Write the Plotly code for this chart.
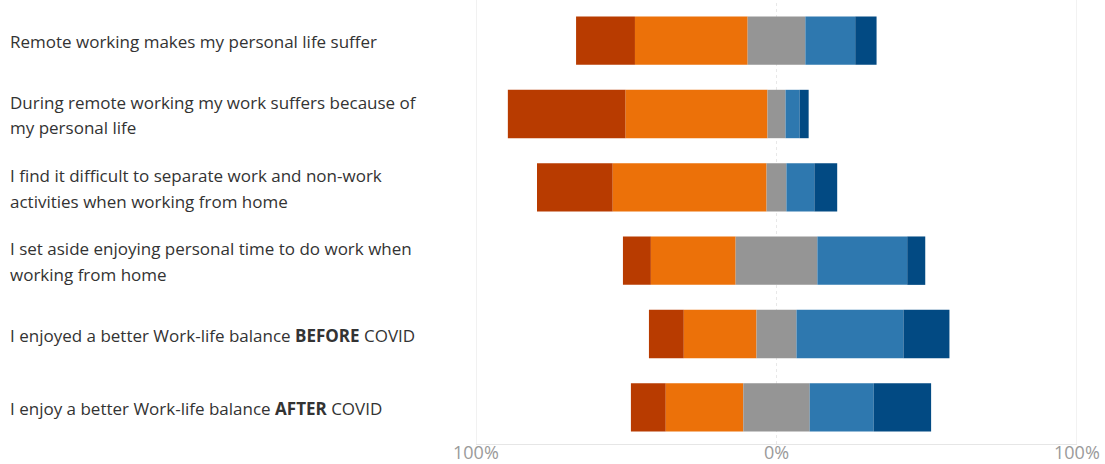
import plotly.graph_objects as go

categories = [
    "Remote working makes my personal life suffer",
    "During remote working my work suffers because of<br>my personal life",
    "I find it difficult to separate work and non-work<br>activities when working from home",
    "I set aside enjoying personal time to do work when<br>working from home",
    "I enjoyed a better Work-life balance <b>BEFORE</b> COVID",
    "I enjoy a better Work-life balance <b>AFTER</b> COVID",
]
strongly_disagree = [19.6, 39.2, 25.2, 9.3, 11.6, 11.6]
disagree = [37.5, 47.2, 51.2, 28.2, 24.2, 25.8]
neutral = [19.2, 6.0, 6.6, 27.2, 13.3, 22.1]
agree = [16.6, 4.7, 9.3, 29.9, 35.6, 21.3]
strongly_agree = [7.1, 3.0, 7.6, 6.0, 15.3, 19.1]
tick_vals = [-100, 0, 100]
tick_text = ["100%", "0%", "100%"]

colors = {
    "sd": "#B83B00",
    "d": "#EC7109",
    "n": "#959595",
    "a": "#2E78AF",
    "sa": "#024A83",
}

ypos = list(range(len(categories)))
fig = go.Figure()

def add(widths, bases, color, name):
    fig.add_trace(go.Bar(
        x=widths, base=bases, y=ypos, orientation="h", name=name,
        marker=dict(color=color, line=dict(width=0)),
        width=0.66, showlegend=False,
    ))

# diverging layout: neutral centred on zero
n_left = [-v / 2 for v in neutral]
d_base = [nl - d for nl, d in zip(n_left, disagree)]
sd_base = [db - s for db, s in zip(d_base, strongly_disagree)]
a_base = [v / 2 for v in neutral]
sa_base = [ab + a for ab, a in zip(a_base, agree)]

add(strongly_disagree, sd_base, colors["sd"], "Strongly disagree")
add(disagree, d_base, colors["d"], "Disagree")
add(neutral, n_left, colors["n"], "Neutral")
add(agree, a_base, colors["a"], "Agree")
add(strongly_agree, sa_base, colors["sa"], "Strongly agree")

L, R, T, B = 476, 28, 4, 20
W, H = 1105, 464
plot_w = W - L - R
font_family = "Open Sans, Noto Sans, sans-serif"

annotations = []
for i, lab in enumerate(categories):
    lines = lab.split("<br>")
    n = len(lines)
    for j, line in enumerate(lines):
        shift = (j - (n - 1) / 2) * 25.5
        annotations.append(dict(
            x=(8 - L) / plot_w, xref="paper", xanchor="left",
            y=i, yref="y", yanchor="middle", yshift=-shift - 1,
            text=line, showarrow=False,
            font=dict(family=font_family, size=17, color="#333333"),
        ))

# x tick labels as annotations sitting just under the axis line
for v, t in zip(tick_vals, tick_text):
    annotations.append(dict(
        x=v, xref="x", xanchor="center",
        y=0, yref="paper", yanchor="middle", yshift=-8,
        text=t, showarrow=False,
        font=dict(family=font_family, size=18, color="#9A9A9A"),
    ))

shapes = []
for v in tick_vals:
    shapes.append(dict(
        type="line", xref="x", yref="paper", x0=v, x1=v, y0=0, y1=1.01,
        line=dict(color="#E4E4E4" if v != 0 else "#E8E8E8", width=1,
                  dash="solid" if v != 0 else "dot"),
        layer="below",
    ))

fig.update_layout(
    width=W, height=H,
    margin=dict(l=L, r=R, t=T, b=B, pad=0, autoexpand=False),
    barmode="overlay",
    plot_bgcolor="white", paper_bgcolor="white",
    annotations=annotations,
    shapes=shapes,
    hovermode=False,
    xaxis=dict(
        range=[-100, 100], tickvals=tick_vals,
        showticklabels=False,
        showgrid=False, zeroline=False, automargin=False,
        showline=True, linecolor="#E6E6E6", linewidth=1,
        ticks="", fixedrange=True,
    ),
    yaxis=dict(
        range=[len(categories) - 0.5, -0.5], automargin=False,
        showticklabels=False, showgrid=False, zeroline=False, showline=False,
        fixedrange=True,
    ),
)

fig.write_html(
    "out.html",
    config={"displayModeBar": False, "staticPlot": True},
    post_script="document.body.style.margin='0';document.body.style.overflow='hidden';",
)
